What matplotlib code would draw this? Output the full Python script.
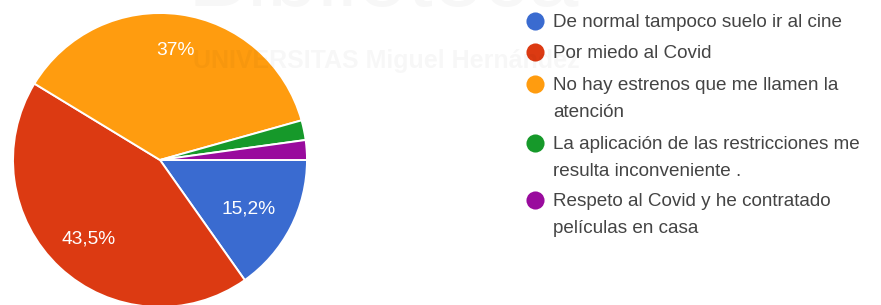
import numpy as np
import matplotlib.pyplot as plt

# respuestas (46 en total)
categorias = ["De normal tampoco suelo ir al cine",
              "Por miedo al Covid",
              "No hay estrenos que me llamen la\natención",
              "La aplicación de las restricciones me\nresulta inconveniente .",
              "Respeto al Covid y he contratado\npelículas en casa"]
respuestas = [7, 20, 17, 1, 1]
etiquetas = ["15,2%", "43,5%", "37%", "", ""]
colores = ["#3a6bd0", "#dc3a12", "#ff9c0f", "#16992a", "#990b9d"]

W, H = 881, 305
fig = plt.figure(figsize=(W/100, H/100), dpi=100)
ax = fig.add_axes([0, 0, 1, 1])
ax.set_xlim(0, W)
ax.set_ylim(0, H)
ax.set_aspect("equal")
ax.axis("off")

fnt = "Liberation Sans"
cx, cy, R = 160, 145, 147

wedges, txts = ax.pie(respuestas, colors=colores, center=(cx, cy), radius=R,
                      startangle=0, counterclock=False,
                      wedgeprops=dict(edgecolor="white", linewidth=1.4))
ax.set_xlim(0, W)
ax.set_ylim(0, H)

# etiquetas de porcentaje dentro de los sectores
dist = [0.68, 0.71, 0.77, 0, 0]
for w, lab, d in zip(wedges, etiquetas, dist):
    if not lab:
        continue
    th = np.deg2rad((w.theta1 + w.theta2) / 2)
    ax.text(cx + d*R*np.cos(th), cy + d*R*np.sin(th) - 3, lab, color="white",
            fontsize=13.8, family=fnt, ha="center", va="center")

# leyenda
ys = [284, 253, 221, 162, 105]
for c, lab, yy in zip(colores, categorias, ys):
    ax.scatter([534.5], [yy], s=170, color=c, zorder=3, linewidths=0)
    ax.text(553, yy + 7, lab, fontsize=13.6, color="#444444", family=fnt,
            va="top", ha="left", linespacing=1.78)

# marca de agua
ax.text(193, 244, "UNIVERSITAS Miguel Hernández", fontsize=18, weight="bold",
        color="black", alpha=0.03, family=fnt, va="center")
ax.text(188, 299, "Biblioteca", fontsize=65, color="black", alpha=0.03,
        family=fnt, va="baseline")

fig.savefig("out.png", dpi=100)
